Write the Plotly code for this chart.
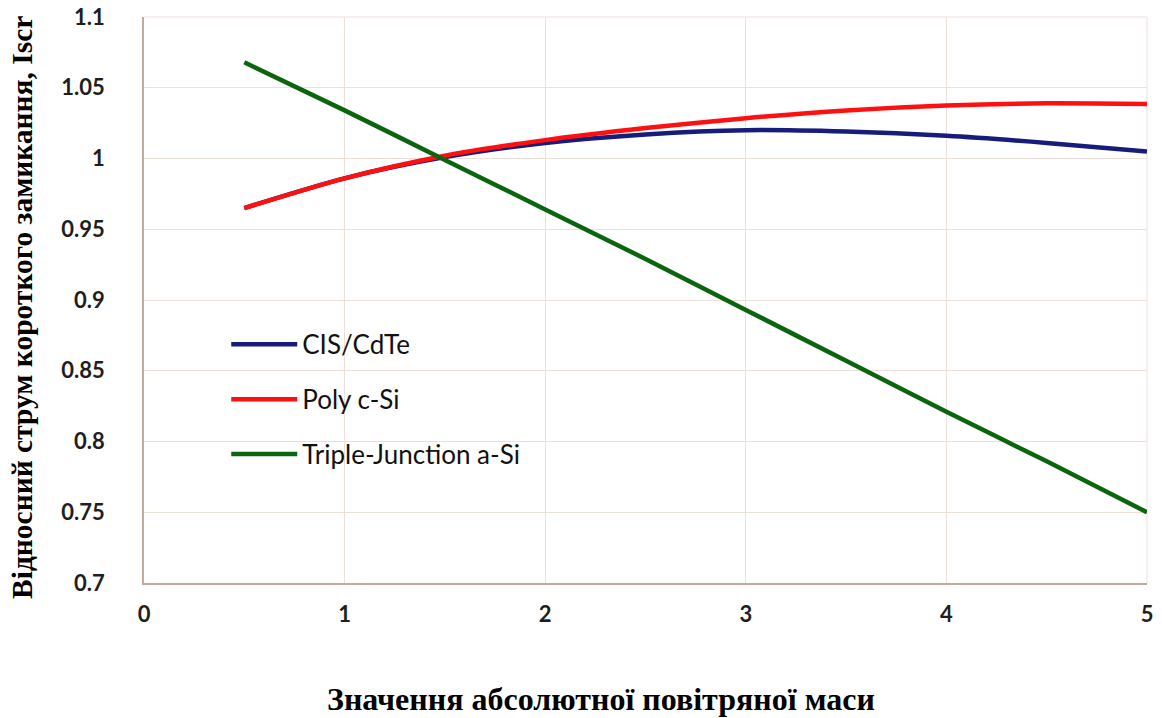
import plotly.graph_objects as go

x_vals = [0.5, 1.0, 1.5, 2.0, 2.5, 3.0, 3.5, 4.0, 4.5, 5.0]
cis_cdte = [0.965, 0.986, 1.001, 1.011, 1.017, 1.020, 1.019, 1.016, 1.011, 1.005]
poly_csi = [0.965, 0.986, 1.002, 1.013, 1.0215, 1.0285, 1.034, 1.0375, 1.039, 1.0385]
triple_asi = [1.068, 1.034, 0.999, 0.964, 0.929, 0.893, 0.857, 0.821, 0.786, 0.750]

series_names = ["CIS/CdTe", "Poly c-Si", "Triple-Junction a-Si"]
series_colors = ["#161c7c", "#ff1010", "#0b650f"]

y_ticks = [0.7, 0.75, 0.8, 0.85, 0.9, 0.95, 1.0, 1.05, 1.1]
y_tick_text = ["0.7", "0.75", "0.8", "0.85", "0.9", "0.95", "1", "1.05", "1.1"]
x_ticks = [0, 1, 2, 3, 4, 5]
x_tick_text = ["0", "1", "2", "3", "4", "5"]

x_title = "Значення абсолютної повітряної маси"
y_title = "Відносний струм короткого замикання, Iscr"

GRID = "#eedfda"

fig = go.Figure()
for name, ys, col in zip(series_names, [cis_cdte, poly_csi, triple_asi], series_colors):
    fig.add_trace(go.Scatter(
        x=x_vals, y=ys, mode="lines", name=name, legendgroup=name,
        line=dict(color=col, width=4.5, shape="spline", smoothing=0.8),
    ))

tick_font = dict(family="Lato, 'Open Sans', sans-serif", size=22, color="#1e1e1e", weight="bold")

fig.update_layout(
    width=1162, height=718,
    margin=dict(l=144, r=15, t=17, b=135, autoexpand=False),
    paper_bgcolor="white", plot_bgcolor="white",
    showlegend=True,
    legend=dict(
        x=0.082, y=0.463, xanchor="left", yanchor="top",
        bgcolor="rgba(0,0,0,0)",
        font=dict(family="Lato, 'Open Sans', sans-serif", size=26, color="#111111"),
        tracegroupgap=18, traceorder="grouped",
        itemwidth=66,
    ),
    xaxis=dict(
        range=[0, 5], tickvals=x_ticks, ticktext=x_tick_text,
        showgrid=True, gridcolor=GRID, gridwidth=1,
        showline=True, linecolor="#c9a89c", linewidth=1.5,
        zeroline=False, ticks="", ticklabelstandoff=11,
        ticklabeloverflow="allow",
        tickfont=tick_font,
    ),
    yaxis=dict(
        range=[0.7, 1.1], tickvals=y_ticks, ticktext=y_tick_text,
        showgrid=True, gridcolor=GRID, gridwidth=1,
        showline=True, linecolor="#c9a89c", linewidth=1.5,
        zeroline=False, ticks="", ticklabelstandoff=33,
        ticklabeloverflow="allow",
        tickfont=tick_font,
    ),
    shapes=[
        dict(type="line", xref="paper", yref="paper", x0=0, x1=1, y0=1, y1=1,
             line=dict(color=GRID, width=1), layer="below"),
        dict(type="line", xref="paper", yref="paper", x0=1, x1=1, y0=0, y1=1,
             line=dict(color=GRID, width=1), layer="below"),
    ],
    annotations=[
        dict(text=x_title, xref="paper", yref="paper", x=0.4556, y=-0.205,
             xanchor="center", yanchor="middle", showarrow=False,
             font=dict(family="'Liberation Serif', 'Times New Roman', serif", size=32,
                       color="black", weight="bold")),
        dict(text=y_title, xref="paper", yref="paper", x=-0.1216, y=0.486,
             xanchor="center", yanchor="middle", showarrow=False, textangle=-90,
             font=dict(family="'Liberation Serif', 'Times New Roman', serif", size=29.5,
                       color="black", weight="bold")),
    ],
)

fig.write_html("out.html", config={"displayModeBar": False},
               post_script="document.body.style.margin='0px';")
